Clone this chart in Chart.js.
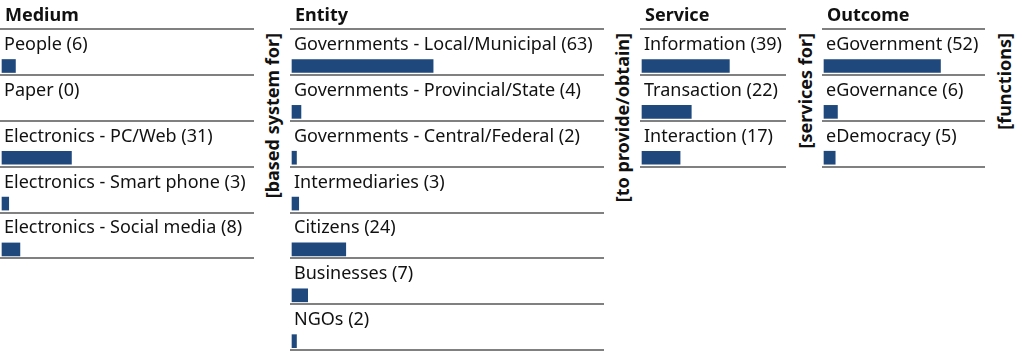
<!DOCTYPE html>
<html>
<head>
<meta charset="utf-8">
<script src="https://cdn.jsdelivr.net/npm/chart.js@4/dist/chart.umd.min.js"></script>
<style>
  body { margin: 0; background: #fff; }
  #wrap { position: relative; width: 1022px; height: 351px; overflow: hidden; font-family: "Noto Sans", sans-serif; color: #111; }
  .col { position: absolute; top: 0; }
  .head { position: absolute; top: 4px; font-weight: bold; font-size: 18px; line-height: 20px; }
  .link { position: absolute; top: 33px; font-weight: bold; font-size: 18px; writing-mode: vertical-rl; transform: rotate(180deg); white-space: nowrap; line-height: 20px; }
</style>
</head>
<body>
<div id="wrap"></div>
<script>
// data
const mediumLabels = ["People", "Paper", "Electronics - PC/Web", "Electronics - Smart phone", "Electronics - Social media"];
const mediumValues = [6, 0, 31, 3, 8];
const entityLabels = ["Governments - Local/Municipal", "Governments - Provincial/State", "Governments - Central/Federal", "Intermediaries", "Citizens", "Businesses", "NGOs"];
const entityValues = [63, 4, 2, 3, 24, 7, 2];
const serviceLabels = ["Information", "Transaction", "Interaction"];
const serviceValues = [39, 22, 17];
const outcomeLabels = ["eGovernment", "eGovernance", "eDemocracy"];
const outcomeValues = [52, 6, 5];
const titles = ["Medium", "Entity", "Service", "Outcome"];
const connectors = ["[based system for]", "[to provide/obtain]", "[services for]", "[functions]"];

const ROW = 45.86;       // row height
const FIRST = 66;        // centre of first bar
const PX = 2.24;         // pixels per unit (same for all columns)
const BLUE = "#1F497D";

const wrap = document.getElementById("wrap");

// labels above bars + separator lines
const rowPlugin = {
  id: "rows",
  afterDatasetsDraw(chart) {
    const ctx = chart.ctx;
    const ys = chart.scales.y;
    const w = chart.width;
    const labels = chart.data.labels;
    const vals = chart.data.datasets[0].data;
    ctx.save();
    ctx.strokeStyle = "#808080";
    ctx.lineWidth = 2;
    ctx.font = "18px 'Noto Sans'";
    ctx.fillStyle = "#111";
    ctx.textBaseline = "alphabetic";
    labels.forEach((lab, i) => {
      const y = ys.getPixelForValue(i);
      if (i == 0) {
        ctx.beginPath();
        ctx.moveTo(0, Math.round(y - ROW + 9));
        ctx.lineTo(w, Math.round(y - ROW + 9));
        ctx.stroke();
      }
      ctx.beginPath();
      ctx.moveTo(0, Math.round(y + 9));
      ctx.lineTo(w, Math.round(y + 9));
      ctx.stroke();
      ctx.fillText(`${lab} (${vals[i]})`, 4, y - 16);
    });
    ctx.restore();
  },
};

const makeColumn = (left, width, labels, values, title) => {
  const div = document.createElement("div");
  div.className = "col";
  div.style.left = left + "px";
  div.style.width = width + "px";
  const canvas = document.createElement("canvas");
  canvas.width = width;
  canvas.height = 351;
  div.appendChild(canvas);
  const head = document.createElement("div");
  head.className = "head";
  head.style.left = "5px";
  head.textContent = title;
  div.appendChild(head);
  wrap.appendChild(div);

  const bottom = 351 - (FIRST + (labels.length - 1) * ROW);
  new Chart(canvas.getContext("2d"), {
    type: "bar",
    data: {
      labels: labels,
      datasets: [{
        data: values,
        // no sliver for a zero value
        backgroundColor: c => (c.raw ? BLUE : "rgba(0,0,0,0)"),
        barThickness: 13,
        clip: false,
      }],
    },
    options: {
      indexAxis: "y",
      responsive: false,
      animation: false,
      events: [],
      layout: { padding: { left: 2, right: 0, top: FIRST, bottom: bottom } },
      scales: {
        x: { type: "linear", min: 0, max: (width - 2) / PX, display: false },
        y: { type: "category", offset: false, display: false },
      },
      plugins: { legend: { display: false }, tooltip: { enabled: false }, title: { display: false } },
    },
    plugins: [rowPlugin],
  });
};

makeColumn(0, 254, mediumLabels, mediumValues, titles[0]);
makeColumn(290, 314, entityLabels, entityValues, titles[1]);
makeColumn(640, 146, serviceLabels, serviceValues, titles[2]);
makeColumn(822, 163, outcomeLabels, outcomeValues, titles[3]);

// rotated connector words between the columns
const linkX = [262, 612, 795, 994];
connectors.forEach((txt, i) => {
  const d = document.createElement("div");
  d.className = "link";
  d.style.left = linkX[i] + "px";
  d.textContent = txt;
  wrap.appendChild(d);
});
</script>
</body>
</html>
